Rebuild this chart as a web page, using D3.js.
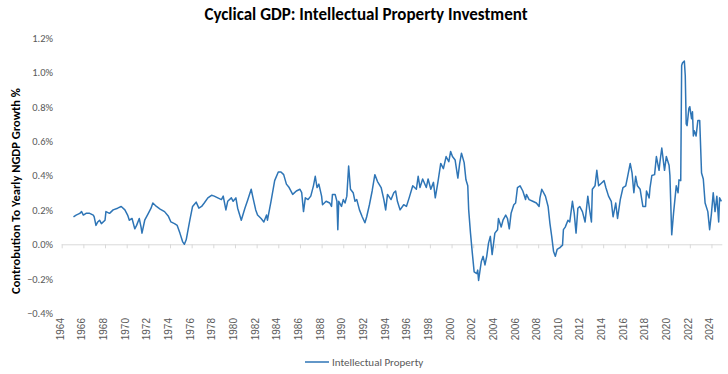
<!DOCTYPE html>
<html>
<head>
<meta charset="utf-8">
<script src="https://cdn.jsdelivr.net/npm/d3@7"></script>
<style>
  body { margin: 0; background: #fff; }
  text { font-family: Carlito, Lato, "Open Sans", sans-serif; }
</style>
</head>
<body>
<div id="chart"></div>
<script>
// monthly readings of the series (value in %)
let months = [
  "1965-02","1965-05","1965-09","1965-11","1966-01","1966-04","1966-08","1966-12",
  "1967-01","1967-03","1967-05","1967-07","1967-09","1968-01","1968-02","1968-06","1968-10",
  "1969-03","1969-07","1969-11","1970-02","1970-04","1970-07","1970-10","1970-12",
  "1971-03","1971-05","1971-06","1971-09","1972-01","1972-04","1972-06","1972-10",
  "1973-02","1973-07","1973-11","1974-02","1974-06","1974-09","1974-12",
  "1975-03","1975-05","1975-07","1975-11","1976-02","1976-06","1976-09","1976-12",
  "1977-03","1977-07","1977-11","1978-02","1978-06","1978-10","1978-12",
  "1979-03","1979-05","1979-09","1979-11","1980-02","1980-04","1980-08","1980-12",
  "1981-03","1981-07","1981-09","1981-12","1982-02","1982-06","1982-09","1982-12",
  "1983-01","1983-05","1983-09","1984-01","1984-04","1984-07","1984-10",
  "1985-01","1985-05","1985-09","1986-01","1986-03","1986-05","1986-07","1986-10",
  "1987-01","1987-04","1987-06","1987-08","1987-10","1988-01","1988-02","1988-06","1988-10","1988-12",
  "1989-01","1989-04","1989-06","1989-07","1989-08","1989-11","1990-01","1990-03","1990-05","1990-07","1990-09","1990-12",
  "1991-02","1991-04","1991-07","1991-10","1992-01","1992-03","1992-06","1992-09","1992-12",
  "1993-03","1993-07","1993-10","1993-12","1994-02","1994-06","1994-09","1994-11",
  "1995-01","1995-04","1995-08","1995-11","1996-02","1996-06","1996-10","1996-12",
  "1997-02","1997-05","1997-09","1997-11","1998-02","1998-05","1998-07","1998-10",
  "1999-01","1999-04","1999-07","1999-10","1999-12","2000-02","2000-05","2000-08","2000-10","2000-12",
  "2001-03","2001-05","2001-07","2001-08","2001-10","2001-12","2002-02","2002-05","2002-06","2002-07","2002-10","2002-12",
  "2003-02","2003-04","2003-06","2003-08","2003-10","2004-01","2004-04","2004-05","2004-08","2004-10",
  "2005-01","2005-03","2005-05","2005-07","2005-10","2005-12","2006-02","2006-05","2006-08","2006-11","2006-12",
  "2007-03","2007-07","2007-11","2008-02","2008-03","2008-05","2008-09","2008-12",
  "2009-02","2009-04","2009-06","2009-08","2009-10","2010-01","2010-04","2010-05","2010-07","2010-10","2010-12",
  "2011-03","2011-05","2011-07","2011-09","2011-11","2012-02","2012-05","2012-08","2012-10","2012-12",
  "2013-01","2013-04","2013-06","2013-08","2013-11","2014-02","2014-04","2014-07","2014-10","2014-12",
  "2015-03","2015-05","2015-08","2015-11","2016-02","2016-04","2016-07","2016-09","2016-11",
  "2017-01","2017-03","2017-06","2017-09","2017-12","2018-01","2018-04","2018-05","2018-07","2018-10","2018-12",
  "2019-03","2019-04","2019-06","2019-09","2019-11","2020-02","2020-03","2020-05","2020-07","2020-10","2020-12",
  "2021-01","2021-03","2021-04","2021-05","2021-07","2021-08","2021-09","2021-10","2021-12",
  "2022-01","2022-03","2022-04","2022-05","2022-06","2022-08","2022-10","2022-12",
  "2023-02","2023-04","2023-06","2023-09","2023-11","2024-01","2024-03","2024-05","2024-07","2024-09","2024-10","2024-12"
];
let values = [
  0.16,0.17,0.18,0.19,0.17,0.18,0.18,0.17,
  0.16,0.11,0.13,0.14,0.12,0.14,0.19,0.18,0.20,
  0.21,0.22,0.20,0.17,0.14,0.15,0.09,0.11,
  0.15,0.10,0.065,0.14,0.18,0.21,0.24,0.22,
  0.205,0.19,0.165,0.13,0.12,0.11,0.065,
  0.016,0.0,0.026,0.14,0.22,0.245,0.21,0.22,
  0.24,0.27,0.285,0.28,0.27,0.26,0.28,
  0.20,0.25,0.27,0.25,0.27,0.21,0.14,0.21,
  0.255,0.32,0.27,0.20,0.17,0.15,0.13,0.17,
  0.14,0.25,0.37,0.42,0.42,0.405,0.35,
  0.33,0.29,0.31,0.32,0.30,0.19,0.27,0.26,
  0.28,0.34,0.395,0.33,0.35,0.28,0.23,0.25,0.24,0.22,
  0.29,0.29,0.25,0.085,0.25,0.22,0.26,0.24,0.28,0.455,0.32,0.30,
  0.25,0.26,0.20,0.16,0.125,0.16,0.23,0.31,0.405,
  0.365,0.33,0.26,0.20,0.29,0.26,0.30,0.31,
  0.25,0.20,0.23,0.22,0.27,0.34,0.32,0.395,
  0.33,0.38,0.33,0.38,0.32,0.36,0.27,0.365,
  0.47,0.44,0.51,0.48,0.54,0.51,0.49,0.385,0.47,0.53,
  0.475,0.375,0.34,0.20,0.065,-0.05,-0.16,-0.17,-0.15,-0.21,-0.10,-0.07,
  -0.12,-0.07,0.007,0.046,-0.06,0.065,0.085,0.15,0.10,0.14,
  0.17,0.15,0.09,0.18,0.23,0.24,0.33,0.34,0.31,0.26,0.29,
  0.26,0.25,0.24,0.22,0.27,0.32,0.28,0.22,
  0.12,0.046,-0.04,-0.07,-0.03,-0.02,-0.005,0.085,0.10,0.14,0.13,
  0.25,0.18,0.065,0.21,0.22,0.19,0.13,0.28,0.20,0.13,
  0.32,0.34,0.43,0.34,0.355,0.37,0.33,0.28,0.25,0.16,
  0.24,0.15,0.26,0.33,0.34,0.39,0.47,0.415,0.30,
  0.395,0.34,0.32,0.22,0.22,0.31,0.27,0.33,0.40,0.405,0.51,
  0.43,0.48,0.56,0.43,0.51,0.46,0.40,0.055,0.18,0.34,0.30,
  0.375,0.37,1.04,1.055,1.065,0.98,0.70,0.69,0.79,
  0.80,0.73,0.77,0.63,0.66,0.63,0.72,0.72,
  0.415,0.38,0.24,0.19,0.085,0.18,0.30,0.19,0.28,0.13,0.27,0.25
];
let yTicks = [-0.4, -0.2, 0.0, 0.2, 0.4, 0.6, 0.8, 1.0, 1.2];
let yearTicks = d3.range(1964, 2025, 2);
let seriesName = "Intellectual Property";

let width = 728, height = 374;
let parseMonth = d3.timeParse("%Y-%m");
let data = months.map((m, i) => ({date: parseMonth(m), value: values[i]}));

let svg = d3.select("#chart").append("svg")
            .attr("width", width)
            .attr("height", height);

let x = d3.scaleTime()
          .domain([new Date(1964, 0, 1), new Date(2025, 0, 1)])
          .range([61.7, 722.3]);

let y = d3.scaleLinear()
          .domain([-0.4, 1.2])
          .range([313.1, 37.9]);

// title
svg.append("text")
   .attr("x", 366)
   .attr("y", 20)
   .attr("text-anchor", "middle")
   .style("font-size", "17px")
   .style("font-weight", "bold")
   .style("fill", "#000")
   .text("Cyclical GDP: Intellectual Property Investment");

// y axis labels
let yAxis = svg.append("g")
   .attr("transform", "translate(58,0)")
   .call(d3.axisLeft(y).tickValues(yTicks).tickSize(0).tickPadding(5)
           .tickFormat(d => d3.format(".1f")(d) + "%"));
yAxis.select(".domain").remove();
yAxis.selectAll("text")
     .style("font-size", "10.5px")
     .style("fill", "#595959");

// y axis title
svg.append("text")
   .attr("transform", "translate(20,191) rotate(-90)")
   .attr("text-anchor", "middle")
   .style("font-size", "12.5px")
   .style("font-weight", "bold")
   .style("fill", "#000")
   .text("Controbution To Yearly NGDP Growth %");

// zero line with tick marks
let zeroAxis = svg.append("g")
   .attr("transform", "translate(0," + y(0) + ")")
   .call(d3.axisBottom(x)
           .tickValues(yearTicks.map(yr => new Date(yr, 0, 1)))
           .tickSize(4).tickSizeOuter(0).tickFormat(""));
zeroAxis.select(".domain").attr("stroke", "#d9d9d9").attr("d", "M" + x.range()[0] + ",0.5H" + x.range()[1]);
zeroAxis.selectAll(".tick line").attr("stroke", "#d9d9d9");

// year labels at the bottom
let xLabels = svg.append("g")
   .attr("transform", "translate(0,314)")
   .call(d3.axisBottom(x)
           .tickValues(yearTicks.map(yr => new Date(yr, 0, 1)))
           .tickSize(0).tickFormat(d3.timeFormat("%Y")));
xLabels.select(".domain").remove();
xLabels.selectAll("text")
       .attr("transform", "rotate(-90)")
       .attr("text-anchor", "end")
       .attr("x", -4)
       .attr("y", -2)
       .attr("dy", "0.35em")
       .style("font-family", "'Liberation Sans', Arial, sans-serif")
       .style("font-size", "10px")
       .style("fill", "#595959");

// series line
let line = d3.line()
             .x(d => x(d.date))
             .y(d => y(d.value));

svg.append("path")
   .datum(data)
   .attr("fill", "none")
   .attr("stroke", "#2E75B6")
   .attr("stroke-width", 1.5)
   .attr("stroke-linejoin", "round")
   .attr("d", line);

// legend
let legend = svg.append("g").attr("transform", "translate(305,362)");
legend.append("line")
      .attr("x1", 0).attr("x2", 24)
      .attr("y1", 0).attr("y2", 0)
      .attr("stroke", "#2E75B6")
      .attr("stroke-width", 1.5);
legend.append("text")
      .attr("x", 27)
      .attr("y", 0)
      .attr("dy", "0.35em")
      .style("font-size", "11px")
      .style("fill", "#595959")
      .text(seriesName);
</script>
</body>
</html>
